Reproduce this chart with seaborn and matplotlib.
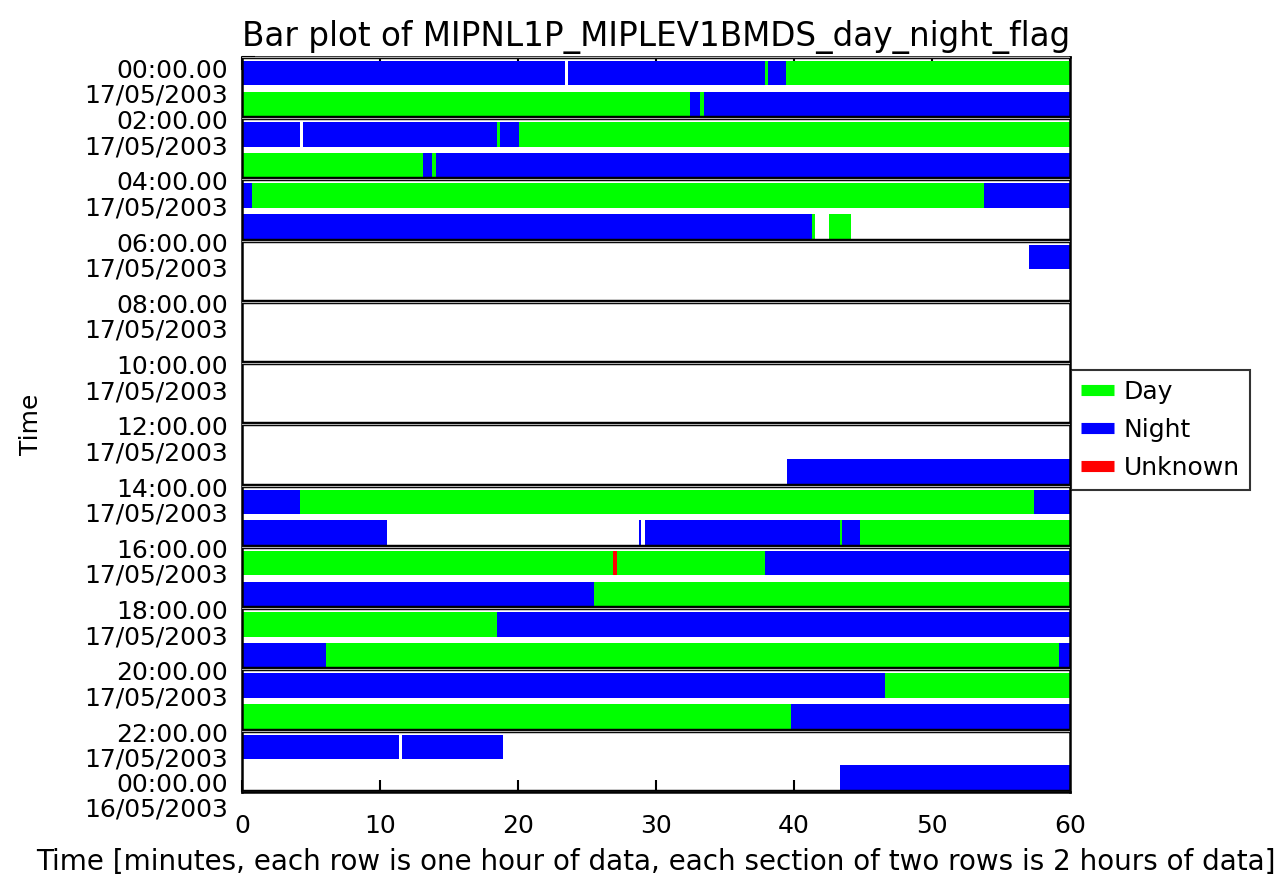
import matplotlib
matplotlib.use("Agg")
import matplotlib.pyplot as plt
import matplotlib.transforms as mtransforms
from matplotlib.lines import Line2D
import seaborn as sns

# segment data: one entry per coloured piece of a row (row = hour of the day)
seg_row = [0, 0, 0, 0, 0,
           1, 1, 1, 1,
           2, 2, 2, 2, 2,
           3, 3, 3, 3,
           4, 4, 4,
           5, 5, 5,
           6,
           13,
           14, 14, 14,
           15, 15, 15, 15, 15, 15,
           16, 16, 16, 16,
           17, 17,
           18, 18,
           19, 19, 19,
           20, 20,
           21, 21,
           22, 22,
           23]
seg_start = [0, 23.6, 37.9, 38.1, 39.4,
             0, 32.5, 33.2, 33.45,
             0, 4.4, 18.5, 18.7, 20.1,
             0, 13.1, 13.8, 14.05,
             0, 0.7, 53.8,
             0, 41.3, 42.55,
             57.0,
             39.5,
             0, 4.2, 57.4,
             0, 28.8, 29.2, 43.3, 43.5, 44.8,
             0, 26.9, 27.2, 37.9,
             0, 25.5,
             0, 18.5,
             0, 6.1, 59.2,
             0, 46.6,
             0, 39.8,
             0, 11.6,
             43.35]
seg_end = [23.4, 37.9, 38.1, 39.4, 60,
           32.5, 33.2, 33.45, 60,
           4.2, 18.5, 18.7, 20.1, 60,
           13.1, 13.8, 14.05, 60,
           0.7, 53.8, 60,
           41.3, 41.5, 44.1,
           60,
           60,
           4.2, 57.4, 60,
           10.5, 28.95, 43.3, 43.5, 44.8, 60,
           26.9, 27.2, 37.9, 60,
           25.5, 60,
           18.5, 60,
           6.1, 59.2, 60,
           46.6, 60,
           39.8, 60,
           11.4, 18.9,
           60]
seg_flag = ["Night", "Night", "Day", "Night", "Day",
            "Day", "Night", "Day", "Night",
            "Night", "Night", "Day", "Night", "Day",
            "Day", "Night", "Day", "Night",
            "Night", "Day", "Night",
            "Night", "Day", "Day",
            "Night",
            "Night",
            "Night", "Day", "Night",
            "Night", "Night", "Night", "Day", "Night", "Day",
            "Day", "Unknown", "Day", "Night",
            "Night", "Day",
            "Day", "Night",
            "Night", "Day", "Night",
            "Night", "Day",
            "Day", "Night",
            "Night", "Night",
            "Night"]

flag_names = ["Day", "Night", "Unknown"]
flag_colors = {"Day": "#00ff00", "Night": "#0000ff", "Unknown": "#ff0000"}

section_labels = ["00:00.00\n17/05/2003", "02:00.00\n17/05/2003", "04:00.00\n17/05/2003",
                  "06:00.00\n17/05/2003", "08:00.00\n17/05/2003", "10:00.00\n17/05/2003",
                  "12:00.00\n17/05/2003", "14:00.00\n17/05/2003", "16:00.00\n17/05/2003",
                  "18:00.00\n17/05/2003", "20:00.00\n17/05/2003", "22:00.00\n17/05/2003",
                  "00:00.00\n16/05/2003"]
x_ticks = [0, 10, 20, 30, 40, 50, 60]

sns.set_theme(style="white")
plt.rcParams["font.family"] = ["DejaVu Sans"]
plt.rcParams["text.color"] = "black"
plt.rcParams["axes.labelcolor"] = "black"
plt.rcParams["xtick.color"] = "black"
plt.rcParams["ytick.color"] = "black"

fig = plt.figure(figsize=(12.87, 8.77), dpi=100)
ax = fig.add_axes([0.188, 0.097, 0.6434, 0.838])

for r, s, e, f in zip(seg_row, seg_start, seg_end, seg_flag):
    ax.barh(r + 0.53, e - s, left=s, height=0.8, color=flag_colors[f], linewidth=0)

# section boxes (every two rows)
for k in range(13):
    ax.axhline(2 * k, color="black", lw=3.2, zorder=3)
    ax.axhline(2 * k, color="#b0b0b0", lw=0.8, zorder=4)

ax.set_xlim(0, 60)
ax.set_ylim(24, 0)
ax.set_xticks(x_ticks)
ax.tick_params(axis="x", direction="in", length=9, width=1.5, top=True, bottom=True,
               labelsize=18, pad=16)
ax.set_yticks(range(0, 25, 2))
ax.set_yticklabels(section_labels, va="top", fontsize=18, linespacing=1.05)
ax.tick_params(axis="y", direction="in", length=9, width=1.5, left=True, pad=10)

for i, lab in enumerate(ax.get_yticklabels()):
    dy = 8
    if i == 0:
        dy = -2
    elif i == len(section_labels) - 1:
        dy = 19
    lab.set_transform(lab.get_transform() + mtransforms.ScaledTranslation(0, dy / 100, fig.dpi_scale_trans))

for sp in ax.spines.values():
    sp.set_color("black")
    sp.set_linewidth(1.8)

ax.set_title("Bar plot of MIPNL1P_MIPLEV1BMDS_day_night_flag", fontsize=23.5, pad=8)
ax.set_xlabel("Time [minutes, each row is one hour of data, each section of two rows is 2 hours of data]",
              fontsize=20, labelpad=7)
ax.set_ylabel("Time", fontsize=18, labelpad=30)

handles = [Line2D([0], [0], color=flag_colors[n], lw=8, solid_capstyle="butt") for n in flag_names]
leg = fig.legend(handles, flag_names, loc="upper left", bbox_to_anchor=(0.8325, 0.578),
                 bbox_transform=fig.transFigure, frameon=True, fancybox=False,
                 edgecolor="black", fontsize=18, handlelength=1.3, handletextpad=0.4,
                 borderaxespad=0, labelspacing=0.55, borderpad=0.4)
leg.get_frame().set_linewidth(1.5)

fig.savefig("out.png", dpi=100)
